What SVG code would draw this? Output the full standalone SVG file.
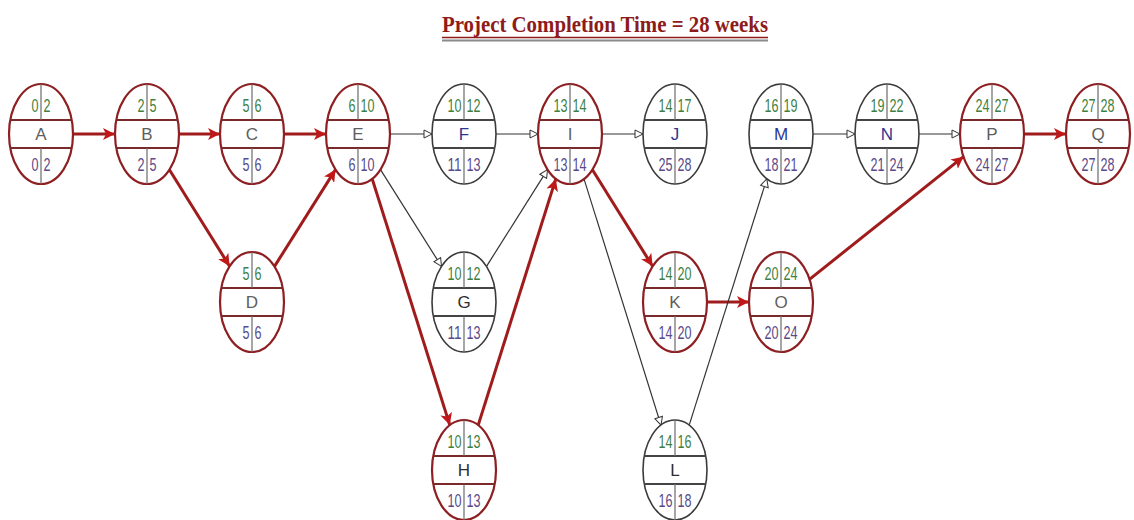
<svg xmlns="http://www.w3.org/2000/svg" width="1134" height="520" viewBox="0 0 1134 520">
  <defs>
    <style>
      .bg { fill: #ffffff; }
      .title { font-family: "Liberation Serif", "Times New Roman", serif; font-weight: bold; font-size: 24px; fill: #8e1b1b; }
      .shell-crit { fill: #ffffff; stroke: #8e1f22; stroke-width: 2.2; }
      .shell-norm { fill: #ffffff; stroke: #3a3a3a; stroke-width: 1.6; }
      .bar-crit { stroke: #7a2a2a; stroke-width: 2; }
      .bar-norm { stroke: #444444; stroke-width: 2; }
      .div { stroke: #6a6a6a; stroke-width: 1.2; }
      .num { font-family: "Liberation Sans", Arial, sans-serif; font-size: 19px; }
      .es { fill: #3f7f44; }
      .ls { fill: #5a4a8a; }
      .l { text-anchor: end; }
      .r { text-anchor: start; }
      .lbl { font-family: "Liberation Sans", Arial, sans-serif; font-size: 17px; text-anchor: middle; }
      .lc { fill: #5e5e5e; }
      .lb { fill: #2e3590; }
      .ld { fill: #2e2e2e; }
      .crit { stroke: #a01c1c; stroke-width: 3; fill: none; marker-end: url(#head-crit); }
      .norm { stroke: #333333; stroke-width: 1.2; fill: none; marker-end: url(#head-norm); }
    </style>
    <marker id="head-crit" markerUnits="userSpaceOnUse" markerWidth="14" markerHeight="12" refX="12" refY="6" orient="auto">
      <path d="M0,0 L12,6 L0,12 L3,6 Z" fill="#c01818"/>
    </marker>
    <marker id="head-norm" markerUnits="userSpaceOnUse" markerWidth="10" markerHeight="10" refX="9" refY="5" orient="auto">
      <path d="M1,1 L9,5 L1,9 Z" fill="#ffffff" stroke="#333333" stroke-width="1"/>
    </marker>
    <!-- inner rules of an activity node: ES|EF on top, name in the middle, LS|LF below -->
    <g id="rules">
      <line x1="-31" y1="-14" x2="31" y2="-14"/>
      <line x1="-31" y1="14" x2="31" y2="14"/>
    </g>
    <g id="dividers" class="div">
      <line x1="0" y1="-50" x2="0" y2="-14"/>
      <line x1="0" y1="14" x2="0" y2="50"/>
    </g>
  </defs>

  <rect class="bg" x="0" y="0" width="1134" height="520"/>

  <!-- heading -->
  <g id="heading">
    <text class="title" x="605" y="32" text-anchor="middle" textLength="326" lengthAdjust="spacingAndGlyphs">Project Completion Time = 28 weeks</text>
    <line x1="442" y1="40.5" x2="768" y2="40.5" stroke="#8a8a8a" stroke-width="2"/>
    <line x1="442" y1="37.5" x2="768" y2="37.5" stroke="#8e1b1b" stroke-width="1.6"/>
  </g>

  <!-- connectors -->
  <g id="connectors">
    <!-- critical path -->
    <line class="crit" x1="73" y1="134" x2="115" y2="134"/>
    <line class="crit" x1="179" y1="134" x2="220" y2="134"/>
    <line class="crit" x1="284" y1="134" x2="326" y2="134"/>
    <line class="crit" x1="169.4" y1="169.8" x2="229.6" y2="266.2"/>
    <line class="crit" x1="274.5" y1="266.4" x2="335.5" y2="169.6"/>
    <line class="crit" x1="372.2" y1="178.9" x2="449.8" y2="425.1"/>
    <line class="crit" x1="478.2" y1="425.1" x2="555.8" y2="178.9"/>
    <line class="crit" x1="592.4" y1="169.8" x2="652.6" y2="266.2"/>
    <line class="crit" x1="707" y1="302" x2="749" y2="302"/>
    <line class="crit" x1="809.5" y1="279.3" x2="963.5" y2="156.7"/>
    <line class="crit" x1="1024" y1="134" x2="1066" y2="134"/>
    <!-- activities with slack -->
    <line class="norm" x1="390" y1="134" x2="432" y2="134"/>
    <line class="norm" x1="496" y1="134" x2="538" y2="134"/>
    <line class="norm" x1="602" y1="134" x2="643" y2="134"/>
    <line class="norm" x1="813" y1="134" x2="855" y2="134"/>
    <line class="norm" x1="919" y1="134" x2="960" y2="134"/>
    <line class="norm" x1="380.5" y1="169.6" x2="441.5" y2="266.4"/>
    <line class="norm" x1="486.5" y1="266.4" x2="547.5" y2="169.6"/>
    <line class="norm" x1="584" y1="178.9" x2="661" y2="425.1"/>
    <line class="norm" x1="689.2" y1="425.1" x2="766.8" y2="178.9"/>
  </g>

  <!-- nodes -->
  <g id="node-A" transform="translate(41,134)">
    <ellipse class="shell-crit" rx="32" ry="50"/>
    <use href="#rules" class="bar-crit"/><use href="#dividers"/>
    <text class="num es l" x="-2.5" y="-22" textLength="7" lengthAdjust="spacingAndGlyphs">0</text><text class="num es r" x="2.5" y="-22" textLength="7" lengthAdjust="spacingAndGlyphs">2</text>
    <text class="lbl lc" x="0" y="6">A</text>
    <text class="num ls l" x="-2.5" y="37" textLength="7" lengthAdjust="spacingAndGlyphs">0</text><text class="num ls r" x="2.5" y="37" textLength="7" lengthAdjust="spacingAndGlyphs">2</text>
  </g>
  <g id="node-B" transform="translate(147,134)">
    <ellipse class="shell-crit" rx="32" ry="50"/>
    <use href="#rules" class="bar-crit"/><use href="#dividers"/>
    <text class="num es l" x="-2.5" y="-22" textLength="7" lengthAdjust="spacingAndGlyphs">2</text><text class="num es r" x="2.5" y="-22" textLength="7" lengthAdjust="spacingAndGlyphs">5</text>
    <text class="lbl lc" x="0" y="6">B</text>
    <text class="num ls l" x="-2.5" y="37" textLength="7" lengthAdjust="spacingAndGlyphs">2</text><text class="num ls r" x="2.5" y="37" textLength="7" lengthAdjust="spacingAndGlyphs">5</text>
  </g>
  <g id="node-C" transform="translate(252,134)">
    <ellipse class="shell-crit" rx="32" ry="50"/>
    <use href="#rules" class="bar-crit"/><use href="#dividers"/>
    <text class="num es l" x="-2.5" y="-22" textLength="7" lengthAdjust="spacingAndGlyphs">5</text><text class="num es r" x="2.5" y="-22" textLength="7" lengthAdjust="spacingAndGlyphs">6</text>
    <text class="lbl lc" x="0" y="6">C</text>
    <text class="num ls l" x="-2.5" y="37" textLength="7" lengthAdjust="spacingAndGlyphs">5</text><text class="num ls r" x="2.5" y="37" textLength="7" lengthAdjust="spacingAndGlyphs">6</text>
  </g>
  <g id="node-D" transform="translate(252,302)">
    <ellipse class="shell-crit" rx="32" ry="50"/>
    <use href="#rules" class="bar-crit"/><use href="#dividers"/>
    <text class="num es l" x="-2.5" y="-22" textLength="7" lengthAdjust="spacingAndGlyphs">5</text><text class="num es r" x="2.5" y="-22" textLength="7" lengthAdjust="spacingAndGlyphs">6</text>
    <text class="lbl lc" x="0" y="6">D</text>
    <text class="num ls l" x="-2.5" y="37" textLength="7" lengthAdjust="spacingAndGlyphs">5</text><text class="num ls r" x="2.5" y="37" textLength="7" lengthAdjust="spacingAndGlyphs">6</text>
  </g>
  <g id="node-E" transform="translate(358,134)">
    <ellipse class="shell-crit" rx="32" ry="50"/>
    <use href="#rules" class="bar-crit"/><use href="#dividers"/>
    <text class="num es l" x="-2.5" y="-22" textLength="7" lengthAdjust="spacingAndGlyphs">6</text><text class="num es r" x="2.5" y="-22" textLength="14" lengthAdjust="spacingAndGlyphs">10</text>
    <text class="lbl lc" x="0" y="6">E</text>
    <text class="num ls l" x="-2.5" y="37" textLength="7" lengthAdjust="spacingAndGlyphs">6</text><text class="num ls r" x="2.5" y="37" textLength="14" lengthAdjust="spacingAndGlyphs">10</text>
  </g>
  <g id="node-F" transform="translate(464,134)">
    <ellipse class="shell-norm" rx="32" ry="50"/>
    <use href="#rules" class="bar-norm"/><use href="#dividers"/>
    <text class="num es l" x="-2.5" y="-22" textLength="14" lengthAdjust="spacingAndGlyphs">10</text><text class="num es r" x="2.5" y="-22" textLength="14" lengthAdjust="spacingAndGlyphs">12</text>
    <text class="lbl lb" x="0" y="6">F</text>
    <text class="num ls l" x="-2.5" y="37" textLength="14" lengthAdjust="spacingAndGlyphs">11</text><text class="num ls r" x="2.5" y="37" textLength="14" lengthAdjust="spacingAndGlyphs">13</text>
  </g>
  <g id="node-G" transform="translate(464,302)">
    <ellipse class="shell-norm" rx="32" ry="50"/>
    <use href="#rules" class="bar-norm"/><use href="#dividers"/>
    <text class="num es l" x="-2.5" y="-22" textLength="14" lengthAdjust="spacingAndGlyphs">10</text><text class="num es r" x="2.5" y="-22" textLength="14" lengthAdjust="spacingAndGlyphs">12</text>
    <text class="lbl ld" x="0" y="6">G</text>
    <text class="num ls l" x="-2.5" y="37" textLength="14" lengthAdjust="spacingAndGlyphs">11</text><text class="num ls r" x="2.5" y="37" textLength="14" lengthAdjust="spacingAndGlyphs">13</text>
  </g>
  <g id="node-H" transform="translate(464,470)">
    <ellipse class="shell-crit" rx="32" ry="50"/>
    <use href="#rules" class="bar-crit"/><use href="#dividers"/>
    <text class="num es l" x="-2.5" y="-22" textLength="14" lengthAdjust="spacingAndGlyphs">10</text><text class="num es r" x="2.5" y="-22" textLength="14" lengthAdjust="spacingAndGlyphs">13</text>
    <text class="lbl ld" x="0" y="6">H</text>
    <text class="num ls l" x="-2.5" y="37" textLength="14" lengthAdjust="spacingAndGlyphs">10</text><text class="num ls r" x="2.5" y="37" textLength="14" lengthAdjust="spacingAndGlyphs">13</text>
  </g>
  <g id="node-I" transform="translate(570,134)">
    <ellipse class="shell-crit" rx="32" ry="50"/>
    <use href="#rules" class="bar-crit"/><use href="#dividers"/>
    <text class="num es l" x="-2.5" y="-22" textLength="14" lengthAdjust="spacingAndGlyphs">13</text><text class="num es r" x="2.5" y="-22" textLength="14" lengthAdjust="spacingAndGlyphs">14</text>
    <text class="lbl lc" x="0" y="6">I</text>
    <text class="num ls l" x="-2.5" y="37" textLength="14" lengthAdjust="spacingAndGlyphs">13</text><text class="num ls r" x="2.5" y="37" textLength="14" lengthAdjust="spacingAndGlyphs">14</text>
  </g>
  <g id="node-J" transform="translate(675,134)">
    <ellipse class="shell-norm" rx="32" ry="50"/>
    <use href="#rules" class="bar-norm"/><use href="#dividers"/>
    <text class="num es l" x="-2.5" y="-22" textLength="14" lengthAdjust="spacingAndGlyphs">14</text><text class="num es r" x="2.5" y="-22" textLength="14" lengthAdjust="spacingAndGlyphs">17</text>
    <text class="lbl lb" x="0" y="6">J</text>
    <text class="num ls l" x="-2.5" y="37" textLength="14" lengthAdjust="spacingAndGlyphs">25</text><text class="num ls r" x="2.5" y="37" textLength="14" lengthAdjust="spacingAndGlyphs">28</text>
  </g>
  <g id="node-K" transform="translate(675,302)">
    <ellipse class="shell-crit" rx="32" ry="50"/>
    <use href="#rules" class="bar-crit"/><use href="#dividers"/>
    <text class="num es l" x="-2.5" y="-22" textLength="14" lengthAdjust="spacingAndGlyphs">14</text><text class="num es r" x="2.5" y="-22" textLength="14" lengthAdjust="spacingAndGlyphs">20</text>
    <text class="lbl lc" x="0" y="6">K</text>
    <text class="num ls l" x="-2.5" y="37" textLength="14" lengthAdjust="spacingAndGlyphs">14</text><text class="num ls r" x="2.5" y="37" textLength="14" lengthAdjust="spacingAndGlyphs">20</text>
  </g>
  <g id="node-L" transform="translate(675,470)">
    <ellipse class="shell-norm" rx="32" ry="50"/>
    <use href="#rules" class="bar-norm"/><use href="#dividers"/>
    <text class="num es l" x="-2.5" y="-22" textLength="14" lengthAdjust="spacingAndGlyphs">14</text><text class="num es r" x="2.5" y="-22" textLength="14" lengthAdjust="spacingAndGlyphs">16</text>
    <text class="lbl ld" x="0" y="6">L</text>
    <text class="num ls l" x="-2.5" y="37" textLength="14" lengthAdjust="spacingAndGlyphs">16</text><text class="num ls r" x="2.5" y="37" textLength="14" lengthAdjust="spacingAndGlyphs">18</text>
  </g>
  <g id="node-M" transform="translate(781,134)">
    <ellipse class="shell-norm" rx="32" ry="50"/>
    <use href="#rules" class="bar-norm"/><use href="#dividers"/>
    <text class="num es l" x="-2.5" y="-22" textLength="14" lengthAdjust="spacingAndGlyphs">16</text><text class="num es r" x="2.5" y="-22" textLength="14" lengthAdjust="spacingAndGlyphs">19</text>
    <text class="lbl lb" x="0" y="6">M</text>
    <text class="num ls l" x="-2.5" y="37" textLength="14" lengthAdjust="spacingAndGlyphs">18</text><text class="num ls r" x="2.5" y="37" textLength="14" lengthAdjust="spacingAndGlyphs">21</text>
  </g>
  <g id="node-N" transform="translate(887,134)">
    <ellipse class="shell-norm" rx="32" ry="50"/>
    <use href="#rules" class="bar-norm"/><use href="#dividers"/>
    <text class="num es l" x="-2.5" y="-22" textLength="14" lengthAdjust="spacingAndGlyphs">19</text><text class="num es r" x="2.5" y="-22" textLength="14" lengthAdjust="spacingAndGlyphs">22</text>
    <text class="lbl lb" x="0" y="6">N</text>
    <text class="num ls l" x="-2.5" y="37" textLength="14" lengthAdjust="spacingAndGlyphs">21</text><text class="num ls r" x="2.5" y="37" textLength="14" lengthAdjust="spacingAndGlyphs">24</text>
  </g>
  <g id="node-O" transform="translate(781,302)">
    <ellipse class="shell-crit" rx="32" ry="50"/>
    <use href="#rules" class="bar-crit"/><use href="#dividers"/>
    <text class="num es l" x="-2.5" y="-22" textLength="14" lengthAdjust="spacingAndGlyphs">20</text><text class="num es r" x="2.5" y="-22" textLength="14" lengthAdjust="spacingAndGlyphs">24</text>
    <text class="lbl lc" x="0" y="6">O</text>
    <text class="num ls l" x="-2.5" y="37" textLength="14" lengthAdjust="spacingAndGlyphs">20</text><text class="num ls r" x="2.5" y="37" textLength="14" lengthAdjust="spacingAndGlyphs">24</text>
  </g>
  <g id="node-P" transform="translate(992,134)">
    <ellipse class="shell-crit" rx="32" ry="50"/>
    <use href="#rules" class="bar-crit"/><use href="#dividers"/>
    <text class="num es l" x="-2.5" y="-22" textLength="14" lengthAdjust="spacingAndGlyphs">24</text><text class="num es r" x="2.5" y="-22" textLength="14" lengthAdjust="spacingAndGlyphs">27</text>
    <text class="lbl lc" x="0" y="6">P</text>
    <text class="num ls l" x="-2.5" y="37" textLength="14" lengthAdjust="spacingAndGlyphs">24</text><text class="num ls r" x="2.5" y="37" textLength="14" lengthAdjust="spacingAndGlyphs">27</text>
  </g>
  <g id="node-Q" transform="translate(1098,134)">
    <ellipse class="shell-crit" rx="32" ry="50"/>
    <use href="#rules" class="bar-crit"/><use href="#dividers"/>
    <text class="num es l" x="-2.5" y="-22" textLength="14" lengthAdjust="spacingAndGlyphs">27</text><text class="num es r" x="2.5" y="-22" textLength="14" lengthAdjust="spacingAndGlyphs">28</text>
    <text class="lbl lc" x="0" y="6">Q</text>
    <text class="num ls l" x="-2.5" y="37" textLength="14" lengthAdjust="spacingAndGlyphs">27</text><text class="num ls r" x="2.5" y="37" textLength="14" lengthAdjust="spacingAndGlyphs">28</text>
  </g>
</svg>
